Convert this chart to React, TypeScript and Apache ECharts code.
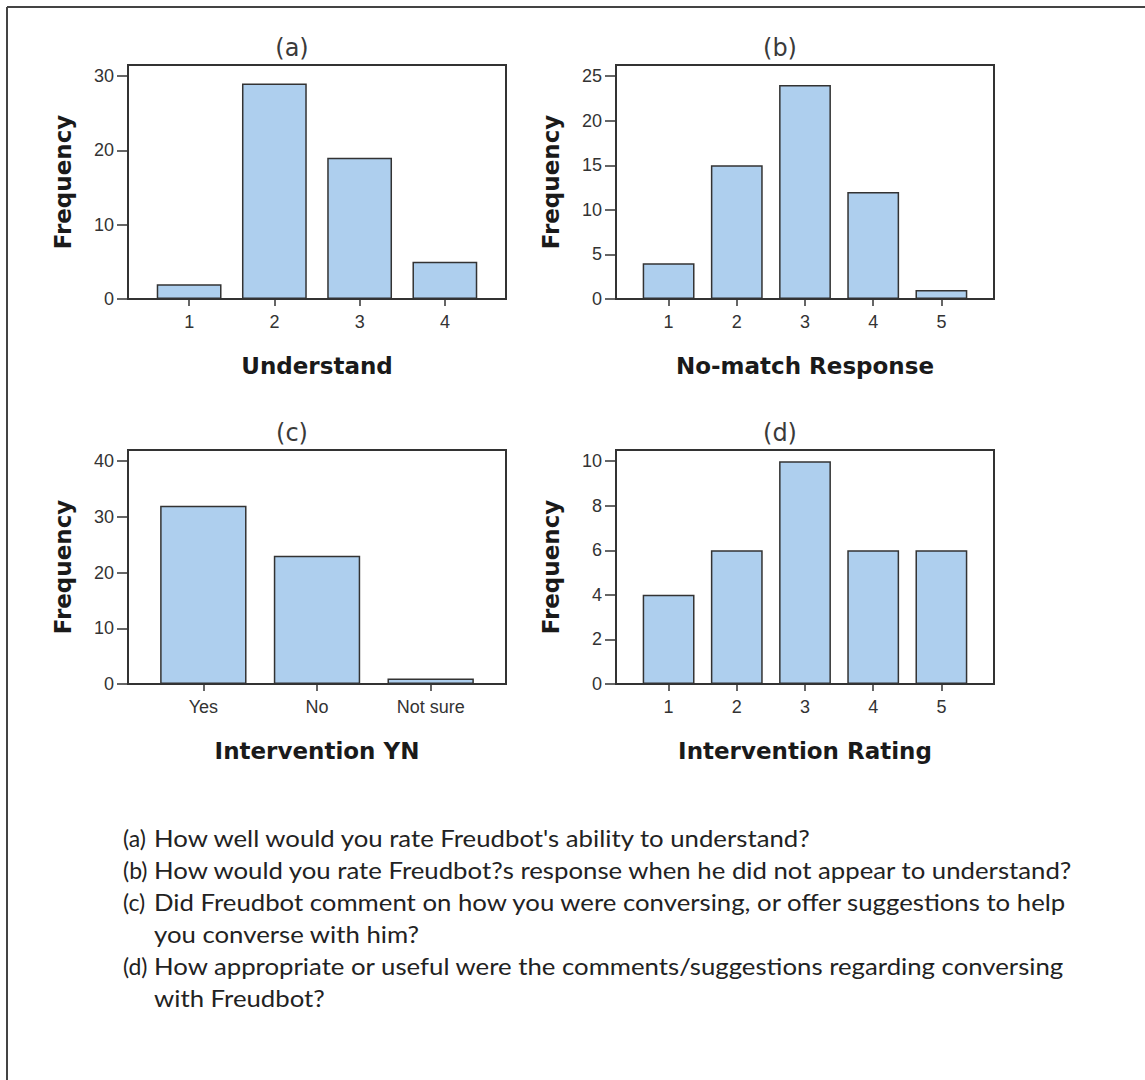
import React, { useEffect, useRef } from "react";
import * as echarts from "echarts";

// Frequencies of the four survey items
const understandCats = ["1", "2", "3", "4"];
const understandFreq = [2, 29, 19, 5];
const understandTicks = [0, 10, 20, 30];

const noMatchCats = ["1", "2", "3", "4", "5"];
const noMatchFreq = [4, 15, 24, 12, 1];
const noMatchTicks = [0, 5, 10, 15, 20, 25];

const interventionYNCats = ["Yes", "No", "Not sure"];
const interventionYNFreq = [32, 23, 1];
const interventionYNTicks = [0, 10, 20, 30, 40];

const interventionRatingCats = ["1", "2", "3", "4", "5"];
const interventionRatingFreq = [4, 6, 10, 6, 6];
const interventionRatingTicks = [0, 2, 4, 6, 8, 10];

const panelTags = ["(a)", "(b)", "(c)", "(d)"];
const axisTitles = ["Understand", "No-match Response", "Intervention YN", "Intervention Rating"];

// Question captions: [tag, line]; continuation lines have an empty tag
const questionLines: [string, string][] = [
  ["(a)", "How well would you rate Freudbot's ability to understand?"],
  ["(b)", "How would you rate Freudbot?s response when he did not appear to understand?"],
  ["(c)", "Did Freudbot comment on how you were conversing, or offer suggestions to help"],
  ["", "you converse with him?"],
  ["(d)", "How appropriate or useful were the comments/suggestions regarding conversing"],
  ["", "with Freudbot?"],
];

const panels = [
  { cats: understandCats, freq: understandFreq, ticks: understandTicks },
  { cats: noMatchCats, freq: noMatchFreq, ticks: noMatchTicks },
  { cats: interventionYNCats, freq: interventionYNFreq, ticks: interventionYNTicks },
  { cats: interventionRatingCats, freq: interventionRatingFreq, ticks: interventionRatingTicks },
];

// Layout (pixels)
const FRAME_W = 378;
const FRAME_H = 234;
const PAD = 18.5;
const frames = [
  { left: 128, top: 65 },
  { left: 616, top: 65 },
  { left: 128, top: 450 },
  { left: 616, top: 450 },
];
const TEXT_TAG_X = 123;
const TEXT_X = 154;
const TEXT_Y0 = 838;
const TEXT_STEP = 32;
const TEXT_SIZE = 23;
const TEXT_STRETCH = 1.12;

const INK = "#333333";
const BAR_FILL = "#AECFEE";

export default function App() {
  const ref = useRef<HTMLDivElement>(null);

  useEffect(() => {
    if (!ref.current) return;
    const chart = echarts.init(ref.current, undefined, { renderer: "svg" });

    const grid = frames.map((f) => ({
      left: f.left + PAD,
      top: f.top,
      width: FRAME_W - 2 * PAD,
      height: FRAME_H,
    }));

    const xAxis = panels.map((p, i) => ({
      type: "category",
      gridIndex: i,
      data: p.cats,
      axisLine: { show: false },
      axisTick: { show: true, alignWithLabel: true, length: 7, lineStyle: { color: INK, width: 1.5 } },
      axisLabel: { margin: 14, fontSize: 18, color: INK, fontFamily: "Liberation Sans, Arial, sans-serif" },
      name: axisTitles[i],
      nameLocation: "middle",
      nameGap: 55,
      nameTextStyle: { fontFamily: "DejaVu Sans", fontWeight: "bold", fontSize: 23, color: "#1a1a1a" },
    }));

    const yAxis = panels.map((p, i) => ({
      type: "value",
      gridIndex: i,
      min: 0,
      max: p.ticks[p.ticks.length - 1] * 1.05,
      offset: PAD,
      splitLine: { show: false },
      axisLine: { show: false },
      axisTick: { show: true, length: 11, customValues: p.ticks, lineStyle: { color: INK, width: 1.5 } },
      axisLabel: { margin: 14, fontSize: 18, color: INK, customValues: p.ticks, fontFamily: "Liberation Sans, Arial, sans-serif" },
      name: "Frequency",
      nameLocation: "middle",
      nameRotate: 90,
      nameGap: 54,
      nameTextStyle: { fontFamily: "DejaVu Sans", fontWeight: "bold", fontSize: 23, color: "#1a1a1a" },
    }));

    const series = panels.map((p, i) => ({
      type: "bar",
      xAxisIndex: i,
      yAxisIndex: i,
      data: p.freq,
      barWidth: "76%",
      itemStyle: { color: BAR_FILL, borderColor: INK, borderWidth: 1.5 },
    }));

    const graphic: any[] = [];
    // outer figure border (top and left edges)
    graphic.push({ type: "line", shape: { x1: 7, y1: 7, x2: 1145, y2: 7 }, style: { stroke: "#444", lineWidth: 2 }, z: 20 });
    graphic.push({ type: "line", shape: { x1: 7, y1: 7, x2: 7, y2: 1080 }, style: { stroke: "#444", lineWidth: 2 }, z: 20 });

    frames.forEach((f, i) => {
      graphic.push({
        type: "rect",
        shape: { x: f.left, y: f.top, width: FRAME_W, height: FRAME_H },
        style: { fill: "none", stroke: INK, lineWidth: 2 },
        z: 20,
      });
      graphic.push({
        type: "text",
        x: f.left + FRAME_W / 2 - 25,
        y: f.top - 17,
        style: {
          text: panelTags[i],
          align: "center",
          verticalAlign: "middle",
          fontFamily: "DejaVu Sans",
          fontSize: 24,
          fill: "#3a3a3a",
        },
        z: 20,
      });
    });

    const captionStyle = { align: "left", verticalAlign: "middle", fontFamily: "Lato", fontSize: TEXT_SIZE, fill: "#222" };
    questionLines.forEach(([tag, line], k) => {
      const y = TEXT_Y0 + k * TEXT_STEP;
      if (tag) {
        graphic.push({
          type: "text",
          x: TEXT_TAG_X,
          y,
          style: { ...captionStyle, text: tag },
        });
      }
      graphic.push({
        type: "text",
        x: TEXT_X,
        y,
        scaleX: TEXT_STRETCH,
        style: { ...captionStyle, text: line },
      });
    });

    chart.setOption({
      animation: false,
      backgroundColor: "#ffffff",
      grid,
      xAxis,
      yAxis,
      series,
      graphic,
    } as any);

    return () => chart.dispose();
  }, []);

  return (
    <div
      ref={ref}
      style={{ position: "absolute", left: 0, top: 0, width: 1145, height: 1080 }}
    />
  );
}
